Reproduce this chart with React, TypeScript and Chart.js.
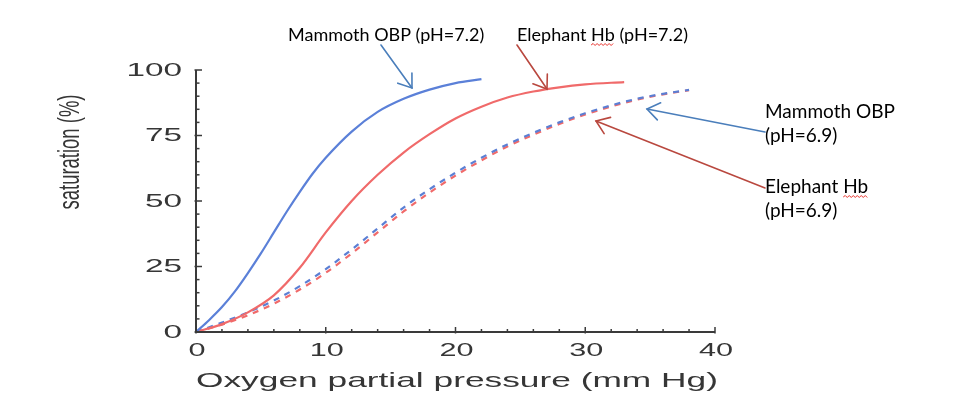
import React, { useEffect, useRef } from 'react';
import { Chart, registerables } from 'chart.js';

Chart.register(...registerables);

// ---- Data ----
const mammoth72X = [0, 1, 2, 3, 4, 5, 6, 7, 8, 9, 10, 12, 14, 16, 18, 20, 22];
const mammoth72Y = [0, 4.5, 9.5, 15.5, 22.5, 30, 38, 46, 53.5, 60.5, 66.5, 76.5, 84, 89, 92.5, 95, 96.5];

const elephant72X = [0, 2, 4, 6, 8, 10, 12, 14, 16, 18, 20, 22, 24, 26, 28, 30, 33];
const elephant72Y = [0, 3, 7.5, 14, 24.5, 38, 50, 60, 68.5, 75.5, 81.5, 86, 89.5, 91.8, 93.4, 94.5, 95.4];

const mammoth69X = [0, 2, 4, 6, 8, 10, 12, 14, 16, 18, 20, 22, 24, 26, 28, 30, 32, 34, 36, 38];
const mammoth69Y = [0, 3.6, 7.5, 12, 17.5, 24, 31.5, 39.5, 47.5, 54.5, 60.8, 66.5, 71.6, 76, 80, 83.5, 86.5, 89, 90.9, 92.4];

const elephant69X = [0, 2, 4, 6, 8, 10, 12, 14, 16, 18, 20, 22, 24, 26, 28, 30, 32, 34, 36, 38];
const elephant69Y = [0, 2.8, 6.4, 10.8, 16.2, 22.6, 30, 38, 46, 53.2, 59.7, 65.5, 70.8, 75.3, 79.4, 83, 86.1, 88.7, 90.7, 92.3];

const xTickValues = [0, 10, 20, 30, 40];
const xTickLabels = ['0', '10', '20', '30', '40'];
const yTickValues = [0, 25, 50, 75, 100];
const yTickLabels = ['0', '25', '50', '75', '100'];

const xTitle = 'Oxygen partial pressure (mm Hg)';
const yTitle = 'saturation (%)';

const seriesNames = [
  'Mammoth OBP (pH=7.2)',
  'Elephant Hb (pH=7.2)',
  'Mammoth OBP (pH=6.9)',
  'Elephant Hb (pH=6.9)',
];

const toPoints = (xs: number[], ys: number[]) => xs.map((x, i) => ({ x, y: ys[i] }));

const BLUE_ARROW = '#4a7ebb';
const RED_ARROW = '#b9483f';

function drawArrow(ctx: CanvasRenderingContext2D, x1: number, y1: number, x2: number, y2: number, color: string) {
  ctx.save();
  ctx.strokeStyle = color;
  ctx.lineWidth = 1.6;
  ctx.lineCap = 'round';
  ctx.beginPath();
  ctx.moveTo(x1, y1);
  ctx.lineTo(x2, y2);
  ctx.stroke();
  const ang = Math.atan2(y2 - y1, x2 - x1);
  const len = 15;
  const spread = 0.62;
  ctx.beginPath();
  ctx.moveTo(x2 - len * Math.cos(ang - spread), y2 - len * Math.sin(ang - spread));
  ctx.lineTo(x2, y2);
  ctx.lineTo(x2 - len * Math.cos(ang + spread), y2 - len * Math.sin(ang + spread));
  ctx.stroke();
  ctx.restore();
}

function drawWavy(ctx: CanvasRenderingContext2D, x1: number, x2: number, y: number) {
  ctx.save();
  ctx.strokeStyle = '#e8302a';
  ctx.lineWidth = 1;
  ctx.beginPath();
  let up = true;
  ctx.moveTo(x1, y);
  for (let x = x1 + 2; x <= x2; x += 2) {
    ctx.lineTo(x, up ? y - 1.5 : y + 0.5);
    up = !up;
  }
  ctx.stroke();
  ctx.restore();
}

const decorPlugin = {
  id: 'decor',
  afterDraw(chart: any) {
    const ctx: CanvasRenderingContext2D = chart.ctx;
    const xs = chart.scales.x;
    const ys = chart.scales.y;
    const { left, right, top, bottom } = chart.chartArea;
    const axisColor = '#3a3a3a';
    const textColor = '#363636';

    ctx.save();
    // axis lines
    ctx.strokeStyle = axisColor;
    ctx.lineWidth = 2;
    ctx.beginPath();
    ctx.moveTo(left, top);
    ctx.lineTo(left, bottom);
    ctx.lineTo(right, bottom);
    ctx.stroke();

    // y ticks (inward), minor every 5
    ctx.lineWidth = 1.5;
    for (let v = 0; v <= 100; v += 5) {
      const py = ys.getPixelForValue(v);
      const major = v % 25 === 0;
      ctx.beginPath();
      ctx.moveTo(left - (major ? 1.5 : 0), py);
      ctx.lineTo(left + (major ? 6 : 3.5), py);
      ctx.stroke();
    }
    // x ticks (inward), minor every 2
    for (let v = 0; v <= 40; v += 2) {
      const px = xs.getPixelForValue(v);
      const major = v % 10 === 0;
      ctx.beginPath();
      ctx.moveTo(px, bottom + (major ? 1.5 : 0));
      ctx.lineTo(px, bottom - (major ? 5 : 3));
      ctx.stroke();
    }

    // tick labels (horizontally stretched, like the reference)
    ctx.fillStyle = textColor;
    ctx.font = '18px "Liberation Sans", Arial, sans-serif';
    ctx.textBaseline = 'middle';
    ctx.textAlign = 'right';
    yTickValues.forEach((v, i) => {
      const py = ys.getPixelForValue(v);
      ctx.save();
      ctx.translate(left - 14, py + 1);
      ctx.scale(1.85, 1);
      ctx.fillText(yTickLabels[i], 0, 0);
      ctx.restore();
    });
    ctx.textAlign = 'center';
    ctx.textBaseline = 'alphabetic';
    xTickValues.forEach((v, i) => {
      const px = xs.getPixelForValue(v);
      ctx.save();
      ctx.translate(px + 1, bottom + 24);
      ctx.scale(1.7, 1);
      ctx.fillText(xTickLabels[i], 0, 0);
      ctx.restore();
    });

    // x title
    ctx.font = '21px "Liberation Sans", Arial, sans-serif';
    ctx.textAlign = 'left';
    const tw = ctx.measureText(xTitle).width;
    const targetW = right - left + 3;
    ctx.save();
    ctx.translate(left, bottom + 55);
    ctx.scale(targetW / tw, 1);
    ctx.fillText(xTitle, 0, 0);
    ctx.restore();

    // y title (rotated)
    ctx.font = '17px "Liberation Sans", Arial, sans-serif';
    ctx.textAlign = 'center';
    ctx.textBaseline = 'middle';
    const yw = ctx.measureText(yTitle).width;
    ctx.save();
    ctx.translate(63, 144);
    ctx.rotate(-Math.PI / 2);
    ctx.scale(115 / yw, 1.7);
    ctx.fillText(yTitle, 0, 0);
    ctx.restore();

    // annotations
    ctx.fillStyle = '#000000';
    ctx.font = '18px Lato, "Open Sans", sans-serif';
    ctx.textAlign = 'left';
    ctx.textBaseline = 'alphabetic';
    ctx.fillText(seriesNames[0], 280, 33);
    ctx.fillText(seriesNames[1], 509, 33);
    const hbStart1 = 509 + ctx.measureText('Elephant ').width;
    const hbW1 = ctx.measureText('Hb').width;
    drawWavy(ctx, hbStart1, hbStart1 + hbW1, 37);

    ctx.font = '19px Lato, "Open Sans", sans-serif';
    ctx.fillText('Mammoth OBP', 757, 110);
    ctx.fillText('(pH=6.9)', 757, 134);
    ctx.fillText('Elephant Hb', 757, 185);
    ctx.fillText('(pH=6.9)', 757, 209);
    const hbStart2 = 757 + ctx.measureText('Elephant ').width;
    const hbW2 = ctx.measureText('Hb').width;
    drawWavy(ctx, hbStart2, hbStart2 + hbW2, 189);

    drawArrow(ctx, 373, 37, 404, 80, BLUE_ARROW);
    drawArrow(ctx, 509, 37, 539, 81, RED_ARROW);
    drawArrow(ctx, 757, 124, 639, 101, BLUE_ARROW);
    drawArrow(ctx, 757, 180, 588, 113, RED_ARROW);

    ctx.restore();
  },
};

export default function App() {
  const canvasRef = useRef<HTMLCanvasElement | null>(null);

  useEffect(() => {
    const canvas = canvasRef.current;
    if (!canvas) return;
    const chart = new Chart(canvas, {
      type: 'line',
      data: {
        datasets: [
          {
            label: seriesNames[0],
            data: toPoints(mammoth72X, mammoth72Y),
            borderColor: '#5b80d8',
            borderWidth: 2.2,
            cubicInterpolationMode: 'monotone',
          },
          {
            label: seriesNames[1],
            data: toPoints(elephant72X, elephant72Y),
            borderColor: '#f06a6a',
            borderWidth: 2.2,
            cubicInterpolationMode: 'monotone',
          },
          {
            label: seriesNames[2],
            data: toPoints(mammoth69X, mammoth69Y),
            borderColor: '#5b7fd4',
            borderWidth: 2.2,
            borderDash: [6, 6],
            cubicInterpolationMode: 'monotone',
          },
          {
            label: seriesNames[3],
            data: toPoints(elephant69X, elephant69Y),
            borderColor: '#f06a6a',
            borderWidth: 2.2,
            borderDash: [6, 6],
            cubicInterpolationMode: 'monotone',
          },
        ],
      },
      options: {
        animation: false,
        responsive: false,
        maintainAspectRatio: false,
        layout: { padding: { left: 188, right: 245, top: 62, bottom: 80 } },
        elements: { point: { radius: 0, hoverRadius: 0 } },
        scales: {
          x: { type: 'linear', min: 0, max: 40, display: false },
          y: { type: 'linear', min: 0, max: 100, display: false },
        },
        plugins: {
          legend: { display: false },
          tooltip: { enabled: false },
        },
      },
      plugins: [decorPlugin],
    } as any);
    return () => chart.destroy();
  }, []);

  return (
    <div style={{ width: 952, height: 404 }}>
      <canvas ref={canvasRef} width={952} height={404} style={{ display: 'block', width: 952, height: 404 }} />
    </div>
  );
}
